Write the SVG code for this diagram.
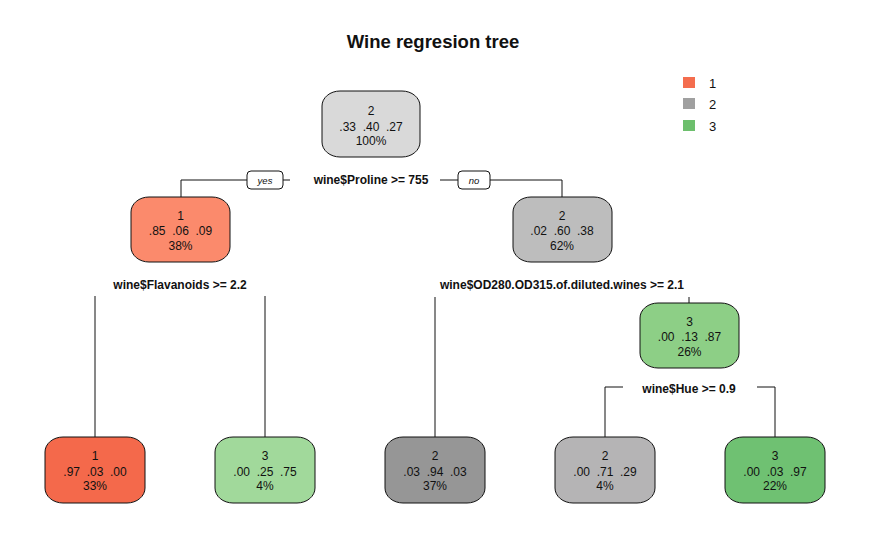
<svg xmlns="http://www.w3.org/2000/svg" width="870" height="535" viewBox="0 0 870 535">
<style>
text{font-family:"Liberation Sans",Arial,sans-serif;fill:#111}
.t{font-size:18.5px;font-weight:bold;text-anchor:middle}
.n{font-size:12px;text-anchor:middle;dominant-baseline:central;white-space:pre}
.s{font-size:12px;font-weight:bold;text-anchor:middle;dominant-baseline:central}
.yn{font-size:9.5px;font-style:italic;text-anchor:middle;dominant-baseline:central}
.lg{font-size:13px;dominant-baseline:central}
.box{stroke:#111;stroke-width:1}
.c{fill:none;stroke:#111;stroke-width:1}
.tag{fill:#fff;stroke:#111;stroke-width:1}
</style>
<rect width="870" height="535" fill="#fff"/>
<text class="t" x="433" y="48">Wine regresion tree</text>
<g id="legend">
<rect x="683" y="77" width="12" height="11" fill="#F46D4E"/>
<text class="lg" x="709" y="83">1</text>
<rect x="683" y="98" width="12" height="11" fill="#A0A0A0"/>
<text class="lg" x="709" y="104">2</text>
<rect x="683" y="120" width="12" height="11" fill="#6DBF6D"/>
<text class="lg" x="709" y="126">3</text>
</g>
<g id="connectors">
<polyline class="c" points="181,197 181,180 247,180"/>
<rect class="tag" x="247" y="171" width="36" height="18" rx="4"/>
<text class="yn" x="265" y="180">yes</text>
<line class="c" x1="283" y1="180" x2="290" y2="180"/>
<line class="c" x1="440" y1="180" x2="458" y2="180"/>
<rect class="tag" x="458" y="171" width="32" height="18" rx="4"/>
<text class="yn" x="474" y="180">no</text>
<polyline class="c" points="490,180 562,180 562,197"/>
<text class="s" x="371" y="180">wine$Proline &gt;= 755</text>
<line class="c" x1="95" y1="296" x2="95" y2="437"/>
<line class="c" x1="265" y1="296" x2="265" y2="437"/>
<text class="s" x="180" y="285">wine$Flavanoids &gt;= 2.2</text>
<line class="c" x1="435" y1="297" x2="435" y2="437"/>
<line class="c" x1="689" y1="297" x2="689" y2="303"/>
<text class="s" x="562" y="285">wine$OD280.OD315.of.diluted.wines &gt;= 2.1</text>
<polyline class="c" points="623,387 605,387 605,437"/>
<polyline class="c" points="757,387 775,387 775,437"/>
<text class="s" x="689" y="389">wine$Hue &gt;= 0.9</text>
</g>
<g id="root">
<rect class="box" x="322" y="91" width="98" height="66" rx="18" ry="15" fill="#D9D9D9"/>
<text class="n" x="371" y="111">2</text>
<text class="n" x="371" y="127">.33  .40  .27</text>
<text class="n" x="371" y="141">100%</text>
</g>
<g id="node2">
<rect class="box" x="131" y="197" width="99" height="65" rx="18" ry="15" fill="#FB8A6C"/>
<text class="n" x="180.5" y="216">1</text>
<text class="n" x="180.5" y="231">.85  .06  .09</text>
<text class="n" x="180.5" y="246">38%</text>
</g>
<g id="node3">
<rect class="box" x="513" y="197" width="99" height="65" rx="18" ry="15" fill="#BDBDBD"/>
<text class="n" x="562" y="216">2</text>
<text class="n" x="562" y="231">.02  .60  .38</text>
<text class="n" x="562" y="246">62%</text>
</g>
<g id="node7">
<rect class="box" x="640" y="303" width="99" height="65" rx="18" ry="15" fill="#8DCF86"/>
<text class="n" x="689.5" y="322">3</text>
<text class="n" x="689.5" y="337">.00  .13  .87</text>
<text class="n" x="689.5" y="352">26%</text>
</g>
<g id="leaf4">
<rect class="box" x="45" y="437" width="100" height="66" rx="18" ry="15" fill="#F4694B"/>
<text class="n" x="95" y="456">1</text>
<text class="n" x="95" y="472">.97  .03  .00</text>
<text class="n" x="95" y="486">33%</text>
</g>
<g id="leaf5">
<rect class="box" x="215" y="437" width="100" height="66" rx="18" ry="15" fill="#A1D99B"/>
<text class="n" x="265" y="456">3</text>
<text class="n" x="265" y="472">.00  .25  .75</text>
<text class="n" x="265" y="486">4%</text>
</g>
<g id="leaf6">
<rect class="box" x="385" y="437" width="100" height="66" rx="18" ry="15" fill="#969696"/>
<text class="n" x="435" y="456">2</text>
<text class="n" x="435" y="472">.03  .94  .03</text>
<text class="n" x="435" y="486">37%</text>
</g>
<g id="leaf14">
<rect class="box" x="555" y="437" width="100" height="66" rx="18" ry="15" fill="#B5B4B5"/>
<text class="n" x="605" y="456">2</text>
<text class="n" x="605" y="472">.00  .71  .29</text>
<text class="n" x="605" y="486">4%</text>
</g>
<g id="leaf15">
<rect class="box" x="725" y="437" width="100" height="66" rx="18" ry="15" fill="#6FC172"/>
<text class="n" x="775" y="456">3</text>
<text class="n" x="775" y="472">.00  .03  .97</text>
<text class="n" x="775" y="486">22%</text>
</g>
</svg>
